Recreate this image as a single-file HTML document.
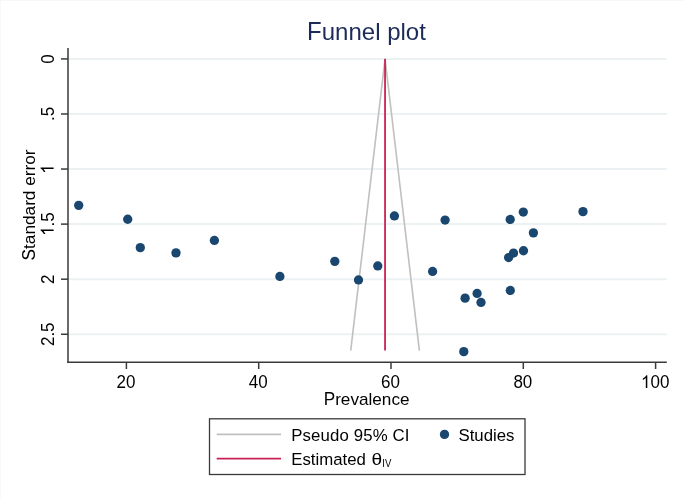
<!DOCTYPE html>
<html><head><meta charset="utf-8"><title>Funnel plot</title>
<style>html,body{margin:0;padding:0;background:#fff;}svg{display:block;will-change:transform;} text{font-family:"Liberation Sans", sans-serif;}</style>
</head><body>
<svg width="685" height="499" viewBox="0 0 685 499">
<rect x="0" y="0" width="685" height="499" fill="#fff"/>
<rect x="0" y="0" width="684" height="1" fill="#f7f9f9"/><rect x="0" y="0" width="1" height="498" fill="#f7f9f9"/>
<g transform="translate(307.100,39.600)" fill="#1c2b5a"><text transform="translate(0.000,0) scale(1.0000,1.0540)" font-size="24">F</text><text x="14.660 28.008 41.355 54.703 68.051 80.051 93.398 98.730 112.078" y="0" font-size="24">unnelplot</text></g>
<line x1="68.00" y1="58.90" x2="666.80" y2="58.90" stroke="#ecf2f3" stroke-width="2"/>
<line x1="68.00" y1="113.97" x2="666.80" y2="113.97" stroke="#ecf2f3" stroke-width="2"/>
<line x1="68.00" y1="169.04" x2="666.80" y2="169.04" stroke="#ecf2f3" stroke-width="2"/>
<line x1="68.00" y1="224.11" x2="666.80" y2="224.11" stroke="#ecf2f3" stroke-width="2"/>
<line x1="68.00" y1="279.18" x2="666.80" y2="279.18" stroke="#ecf2f3" stroke-width="2"/>
<line x1="68.00" y1="334.25" x2="666.80" y2="334.25" stroke="#ecf2f3" stroke-width="2"/>
<polyline points="350.71,350.60 385.05,58.90 419.39,350.60" fill="none" stroke="#c0c0c0" stroke-width="1.6" stroke-linejoin="round"/>
<line x1="385.05" y1="58.90" x2="385.05" y2="350.60" stroke="#ca2254" stroke-width="1.8"/>
<circle cx="78.70" cy="205.35" r="4.65" fill="#1a476f"/>
<circle cx="127.70" cy="219.25" r="4.65" fill="#1a476f"/>
<circle cx="140.30" cy="247.65" r="4.65" fill="#1a476f"/>
<circle cx="176.00" cy="252.85" r="4.65" fill="#1a476f"/>
<circle cx="214.40" cy="240.45" r="4.65" fill="#1a476f"/>
<circle cx="279.90" cy="276.45" r="4.65" fill="#1a476f"/>
<circle cx="334.80" cy="261.35" r="4.65" fill="#1a476f"/>
<circle cx="358.50" cy="279.95" r="4.65" fill="#1a476f"/>
<circle cx="377.80" cy="265.95" r="4.65" fill="#1a476f"/>
<circle cx="394.40" cy="215.95" r="4.65" fill="#1a476f"/>
<circle cx="432.60" cy="271.45" r="4.65" fill="#1a476f"/>
<circle cx="445.10" cy="220.05" r="4.65" fill="#1a476f"/>
<circle cx="465.10" cy="298.15" r="4.65" fill="#1a476f"/>
<circle cx="477.10" cy="293.45" r="4.65" fill="#1a476f"/>
<circle cx="481.00" cy="302.45" r="4.65" fill="#1a476f"/>
<circle cx="463.80" cy="351.65" r="4.65" fill="#1a476f"/>
<circle cx="510.20" cy="219.45" r="4.65" fill="#1a476f"/>
<circle cx="523.30" cy="212.05" r="4.65" fill="#1a476f"/>
<circle cx="533.40" cy="232.85" r="4.65" fill="#1a476f"/>
<circle cx="513.50" cy="253.05" r="4.65" fill="#1a476f"/>
<circle cx="508.60" cy="257.55" r="4.65" fill="#1a476f"/>
<circle cx="523.50" cy="250.75" r="4.65" fill="#1a476f"/>
<circle cx="510.30" cy="290.45" r="4.65" fill="#1a476f"/>
<circle cx="583.00" cy="211.65" r="4.65" fill="#1a476f"/>
<line x1="68.00" y1="48.00" x2="68.00" y2="363.05" stroke="#3a3a3a" stroke-width="1.5"/>
<line x1="67.25" y1="362.30" x2="666.80" y2="362.30" stroke="#3a3a3a" stroke-width="1.5"/>
<line x1="61" y1="58.90" x2="68.00" y2="58.90" stroke="#3a3a3a" stroke-width="1.5"/>
<g transform="translate(53.600,58.900) rotate(-90)" fill="#000"><text transform="translate(-4.727,0) scale(1.0000,1.0650)" font-size="17">0</text></g>
<line x1="61" y1="113.97" x2="68.00" y2="113.97" stroke="#3a3a3a" stroke-width="1.5"/>
<g transform="translate(53.600,113.970) rotate(-90)" fill="#000"><text transform="translate(-2.366,0) scale(1.0000,1.0650)" font-size="17">5</text><text x="-7.089" y="0" font-size="17">.</text></g>
<line x1="61" y1="169.04" x2="68.00" y2="169.04" stroke="#3a3a3a" stroke-width="1.5"/>
<g transform="translate(53.600,169.040) rotate(-90)" fill="#000"><path d="M763,0L583,0L583,1147Q518,1085 430,1033Q330,975 223,930L223,1104Q374,1175 487,1276Q600,1377 647,1472L763,1472Z" transform="translate(-4.727,0) scale(0.008301,-0.008840)"/></g>
<line x1="61" y1="224.11" x2="68.00" y2="224.11" stroke="#3a3a3a" stroke-width="1.5"/>
<g transform="translate(53.600,224.110) rotate(-90)" fill="#000"><path d="M763,0L583,0L583,1147Q518,1085 430,1033Q330,975 223,930L223,1104Q374,1175 487,1276Q600,1377 647,1472L763,1472Z" transform="translate(-11.816,0) scale(0.008301,-0.008840)"/><text transform="translate(2.362,0) scale(1.0000,1.0650)" font-size="17">5</text><text x="-2.362" y="0" font-size="17">.</text></g>
<line x1="61" y1="279.18" x2="68.00" y2="279.18" stroke="#3a3a3a" stroke-width="1.5"/>
<g transform="translate(53.600,279.180) rotate(-90)" fill="#000"><text transform="translate(-4.727,0) scale(1.0000,1.0650)" font-size="17">2</text></g>
<line x1="61" y1="334.25" x2="68.00" y2="334.25" stroke="#3a3a3a" stroke-width="1.5"/>
<g transform="translate(53.600,334.250) rotate(-90)" fill="#000"><text transform="translate(-11.816,0) scale(1.0000,1.0650)" font-size="17">2</text><text transform="translate(2.362,0) scale(1.0000,1.0650)" font-size="17">5</text><text x="-2.362" y="0" font-size="17">.</text></g>
<line x1="126.40" y1="362.30" x2="126.40" y2="369" stroke="#3a3a3a" stroke-width="1.5"/>
<g transform="translate(125.950,387.900)" fill="#000"><text transform="translate(-9.455,0) scale(1.0000,1.0300)" font-size="17">2</text><text transform="translate(0.000,0) scale(1.0000,1.0300)" font-size="17">0</text></g>
<line x1="258.70" y1="362.30" x2="258.70" y2="369" stroke="#3a3a3a" stroke-width="1.5"/>
<g transform="translate(258.250,387.900)" fill="#000"><text transform="translate(-9.455,0) scale(1.0000,1.0300)" font-size="17">4</text><text transform="translate(0.000,0) scale(1.0000,1.0300)" font-size="17">0</text></g>
<line x1="391.00" y1="362.30" x2="391.00" y2="369" stroke="#3a3a3a" stroke-width="1.5"/>
<g transform="translate(390.550,387.900)" fill="#000"><text transform="translate(-9.455,0) scale(1.0000,1.0300)" font-size="17">6</text><text transform="translate(0.000,0) scale(1.0000,1.0300)" font-size="17">0</text></g>
<line x1="523.30" y1="362.30" x2="523.30" y2="369" stroke="#3a3a3a" stroke-width="1.5"/>
<g transform="translate(522.850,387.900)" fill="#000"><text transform="translate(-9.455,0) scale(1.0000,1.0300)" font-size="17">8</text><text transform="translate(0.000,0) scale(1.0000,1.0300)" font-size="17">0</text></g>
<line x1="655.60" y1="362.30" x2="655.60" y2="369" stroke="#3a3a3a" stroke-width="1.5"/>
<g transform="translate(655.150,387.900)" fill="#000"><path d="M763,0L583,0L583,1147Q518,1085 430,1033Q330,975 223,930L223,1104Q374,1175 487,1276Q600,1377 647,1472L763,1472Z" transform="translate(-14.182,0) scale(0.008301,-0.008550)"/><text transform="translate(-4.727,0) scale(1.0000,1.0300)" font-size="17">0</text><text transform="translate(4.727,0) scale(1.0000,1.0300)" font-size="17">0</text></g>
<g transform="translate(34.600,204.950) rotate(-90)" fill="#000"><text transform="translate(-55.451,0) scale(1.0000,1.0500)" font-size="17.2">S</text><text x="-43.978 -39.200 -29.634 -20.068 -10.502 -0.936 4.791 19.136 28.702 34.429 40.157 49.723" y="0" font-size="17.2">tandarderror</text></g>
<g transform="translate(366.600,405.000)" fill="#000"><text transform="translate(-42.900,0) scale(1.0000,1.0400)" font-size="17.15">P</text><text x="-31.461 -25.750 -16.212 -7.637 1.901 5.711 15.249 24.787 33.362" y="0" font-size="17.15">revalence</text></g>
<rect x="209.5" y="418.8" width="315.5" height="55.7" fill="#fff" stroke="#3a3a3a" stroke-width="1.3"/>
<line x1="216.7" y1="434.4" x2="281" y2="434.4" stroke="#c0c0c0" stroke-width="1.6"/>
<line x1="216.7" y1="458.6" x2="281" y2="458.6" stroke="#ca2254" stroke-width="1.8"/>
<g transform="translate(291.200,440.800)" fill="#000"><text transform="translate(0.000,0) scale(1.0000,1.0300)" font-size="16.8">P</text><text transform="translate(62.521,0) scale(1.0000,1.0300)" font-size="16.8">9</text><text transform="translate(71.990,0) scale(1.0000,1.0300)" font-size="16.8">5</text><text transform="translate(81.458,0) scale(1.0000,1.0300)" font-size="16.8">%</text><text transform="translate(101.314,0) scale(1.0000,1.0300)" font-size="16.8">C</text><text transform="translate(113.571,0) scale(1.0000,1.0300)" font-size="16.8">I</text><text x="11.330 19.855 29.324 38.792 48.261" y="0" font-size="16.8">seudo</text></g>
<circle cx="444.5" cy="434.4" r="4.65" fill="#1a476f"/>
<g transform="translate(458.450,440.800)" fill="#000"><text transform="translate(0.000,0) scale(1.0000,1.0300)" font-size="16.8">S</text><text x="11.205 15.873 25.216 34.560 38.292 47.636" y="0" font-size="16.8">tudies</text></g>
<g transform="translate(291.200,465.000)" fill="#000"><text transform="translate(0.000,0) scale(1.0000,1.0300)" font-size="16.8">E</text><text x="11.205 19.605 24.273 28.005 42.000 51.343 56.011 65.354" y="0" font-size="16.8">stimated</text></g>
<g transform="translate(371.6,465) scale(1.14,1.0)"><text x="0" y="0" font-size="16.8" fill="#000">θ</text></g>
<g transform="translate(382.300,466.600)" fill="#000"><text transform="translate(0.000,0) scale(1.0000,1.0800)" font-size="9.6">I</text><text transform="translate(2.667,0) scale(1.0000,1.0800)" font-size="9.6">V</text></g>
</svg>
</body></html>
